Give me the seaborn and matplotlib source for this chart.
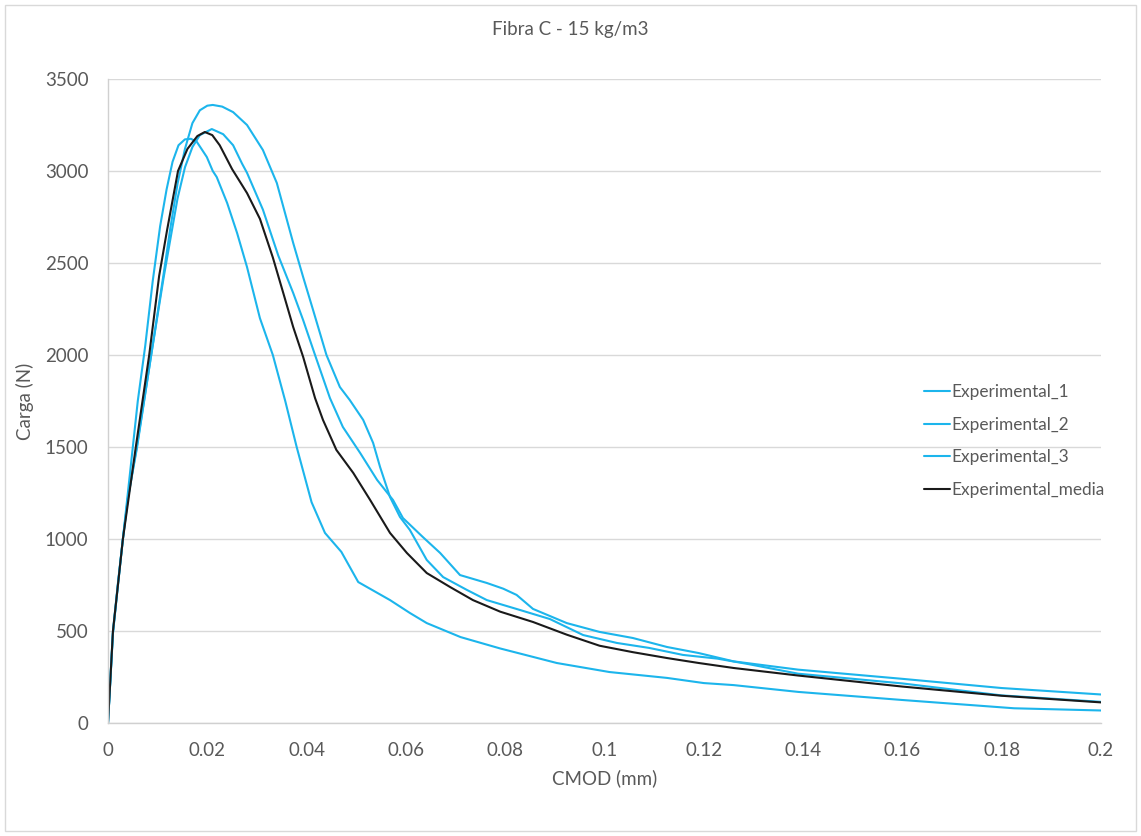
import matplotlib
matplotlib.use("Agg")
import matplotlib.pyplot as plt
import seaborn as sns
import pandas as pd
from matplotlib.patches import Rectangle

# ---- data ----
exp1_x = [0, 0.001, 0.002, 0.003, 0.004, 0.005, 0.006, 0.0075, 0.009, 0.0105, 0.0118, 0.013, 0.0142,
          0.0155, 0.0167, 0.0179, 0.0199, 0.0211, 0.0219, 0.024, 0.026, 0.028, 0.0306, 0.0332,
          0.0357, 0.038, 0.041, 0.0437, 0.047, 0.0504, 0.0568, 0.0608, 0.0642, 0.071, 0.079,
          0.0904, 0.101, 0.1126, 0.12, 0.126, 0.139, 0.16, 0.1825, 0.2]
exp1_y = [0, 500, 760, 1000, 1250, 1500, 1750, 2050, 2400, 2700, 2900, 3050, 3140,
          3172, 3175, 3158, 3076, 3000, 2967, 2826, 2663, 2478, 2200, 2000,
          1750, 1500, 1200, 1033, 930, 766, 668, 598, 543, 467, 405,
          326, 277, 245, 217, 206, 169, 125, 80, 68]

exp2_x = [0, 0.001, 0.002, 0.003, 0.004, 0.0058, 0.0087, 0.0112, 0.0125, 0.014, 0.0155, 0.017,
          0.0185, 0.02, 0.0211, 0.023, 0.0252, 0.028, 0.0312, 0.034, 0.0373, 0.0393, 0.0413,
          0.044, 0.0467, 0.0487, 0.0514, 0.0534, 0.0548, 0.0568, 0.0588, 0.0608, 0.0642, 0.0675,
          0.0723, 0.0763, 0.083, 0.089, 0.0957, 0.1025, 0.109, 0.1158, 0.1227, 0.129, 0.139,
          0.16, 0.18, 0.2]
exp2_y = [0, 490, 750, 1000, 1220, 1500, 2000, 2440, 2680, 2930, 3120, 3260,
          3330, 3355, 3359, 3350, 3320, 3250, 3114, 2935, 2609, 2424, 2245,
          2000, 1826, 1755, 1647, 1522, 1391, 1228, 1120, 1049, 886, 793,
          723, 668, 614, 565, 478, 435, 408, 370, 350, 320, 268,
          215, 150, 115]

exp3_x = [0, 0.001, 0.002, 0.003, 0.004, 0.0058, 0.0087, 0.0112, 0.0125, 0.014, 0.0155, 0.017,
          0.0185, 0.0209, 0.0232, 0.0252, 0.027, 0.028, 0.0312, 0.0343, 0.0373, 0.0393, 0.0417,
          0.0447, 0.0473, 0.0508, 0.0542, 0.0574, 0.0594, 0.0634, 0.0669, 0.0709, 0.0763, 0.0796,
          0.0823, 0.0856, 0.0924, 0.099, 0.1057, 0.1126, 0.119, 0.126, 0.139, 0.16, 0.18, 0.2]
exp3_y = [0, 490, 750, 1000, 1220, 1490, 2000, 2420, 2620, 2850, 3020, 3130,
          3195, 3228, 3200, 3140, 3040, 2990, 2790, 2540, 2337, 2190, 2000,
          1766, 1609, 1467, 1321, 1212, 1114, 1011, 924, 804, 761, 730,
          696, 620, 543, 495, 462, 413, 380, 335, 290, 240, 190, 155]

media_x = [0, 0.001, 0.003, 0.0056, 0.0083, 0.0103, 0.0119, 0.0141, 0.016, 0.018, 0.0195,
           0.021, 0.0225, 0.025, 0.028, 0.0306, 0.0332, 0.0353, 0.0373, 0.0393, 0.0417, 0.0433,
           0.046, 0.0494, 0.0528, 0.0568, 0.0602, 0.0642, 0.0689, 0.0735, 0.079, 0.0856, 0.0924,
           0.099, 0.1057, 0.1126, 0.119, 0.126, 0.139, 0.16, 0.18, 0.2]
media_y = [0, 500, 1000, 1500, 2000, 2430, 2679, 3000, 3120, 3190, 3212,
           3195, 3140, 3010, 2880, 2740, 2530, 2337, 2152, 1990, 1766, 1647,
           1484, 1359, 1212, 1033, 924, 815, 739, 668, 605, 549, 480,
           420, 385, 353, 326, 299, 258, 198, 148, 112]

series_names = ["Experimental_1", "Experimental_2", "Experimental_3", "Experimental_media"]
series_x = [exp1_x, exp2_x, exp3_x, media_x]
series_y = [exp1_y, exp2_y, exp3_y, media_y]

title = "Fibra C - 15 kg/m3"
x_label = "CMOD (mm)"
y_label = "Carga (N)"
x_ticks = [0, 0.02, 0.04, 0.06, 0.08, 0.1, 0.12, 0.14, 0.16, 0.18, 0.2]
x_tick_labels = ["0", "0.02", "0.04", "0.06", "0.08", "0.1", "0.12", "0.14", "0.16", "0.18", "0.2"]
y_ticks = [0, 500, 1000, 1500, 2000, 2500, 3000, 3500]

# ---- styling ----
sns.set_theme(style="white")
plt.rcParams["font.family"] = ["Lato", "DejaVu Sans"]
text_color = "#595959"
palette = {"Experimental_1": "#1CB5EC", "Experimental_2": "#1CB5EC",
           "Experimental_3": "#1CB5EC", "Experimental_media": "#1a1a1a"}

frames = []
for name, xs, ys in zip(series_names, series_x, series_y):
    frames.append(pd.DataFrame({"CMOD": xs, "Carga": ys, "serie": name}))
df = pd.concat(frames, ignore_index=True)

fig = plt.figure(figsize=(11.41, 8.36), dpi=100)
ax = fig.add_axes([108 / 1141, 1 - 723 / 836, (1101 - 108) / 1141, (723 - 79) / 836])

sns.lineplot(data=df, x="CMOD", y="Carga", hue="serie", palette=palette,
             hue_order=series_names, sort=False, estimator=None, linewidth=1.5, ax=ax)

ax.set_xlim(0, 0.2)
ax.set_ylim(0, 3500)
ax.set_xticks(x_ticks)
ax.set_xticklabels(x_tick_labels)
ax.set_yticks(y_ticks)
ax.yaxis.grid(True, color="#d9d9d9", linewidth=1.0)
ax.xaxis.grid(False)
ax.set_axisbelow(True)
for s in ["top", "right"]:
    ax.spines[s].set_visible(False)
for s in ["left", "bottom"]:
    ax.spines[s].set_color("#d0d0d0")
    ax.spines[s].set_linewidth(1.0)
ax.tick_params(axis="x", length=0, labelsize=13.5, colors=text_color, pad=14)
ax.tick_params(axis="y", length=0, labelsize=13.5, colors=text_color, pad=14)

ax.set_xlabel(x_label, fontsize=13.5, color=text_color, labelpad=7)
ax.set_ylabel(y_label, fontsize=13.5, color=text_color, labelpad=8)
fig.text(0.5, 1 - 30 / 836, title, ha="center", va="center", fontsize=13.5, color=text_color)

leg = ax.legend(loc="center left", bbox_to_anchor=(917 / 1141, 1 - 441 / 836),
                bbox_transform=fig.transFigure, frameon=False, fontsize=12.4,
                handlelength=1.5, handletextpad=0.1, labelspacing=0.95, borderaxespad=0)
for t in leg.get_texts():
    t.set_color(text_color)

fig.patches.append(Rectangle((5 / 1141, 5 / 836), 1131 / 1141, 826 / 836, transform=fig.transFigure,
                             fill=False, edgecolor="#d9d9d9", linewidth=1.0))

fig.savefig("out.png", dpi=100, facecolor="white")
